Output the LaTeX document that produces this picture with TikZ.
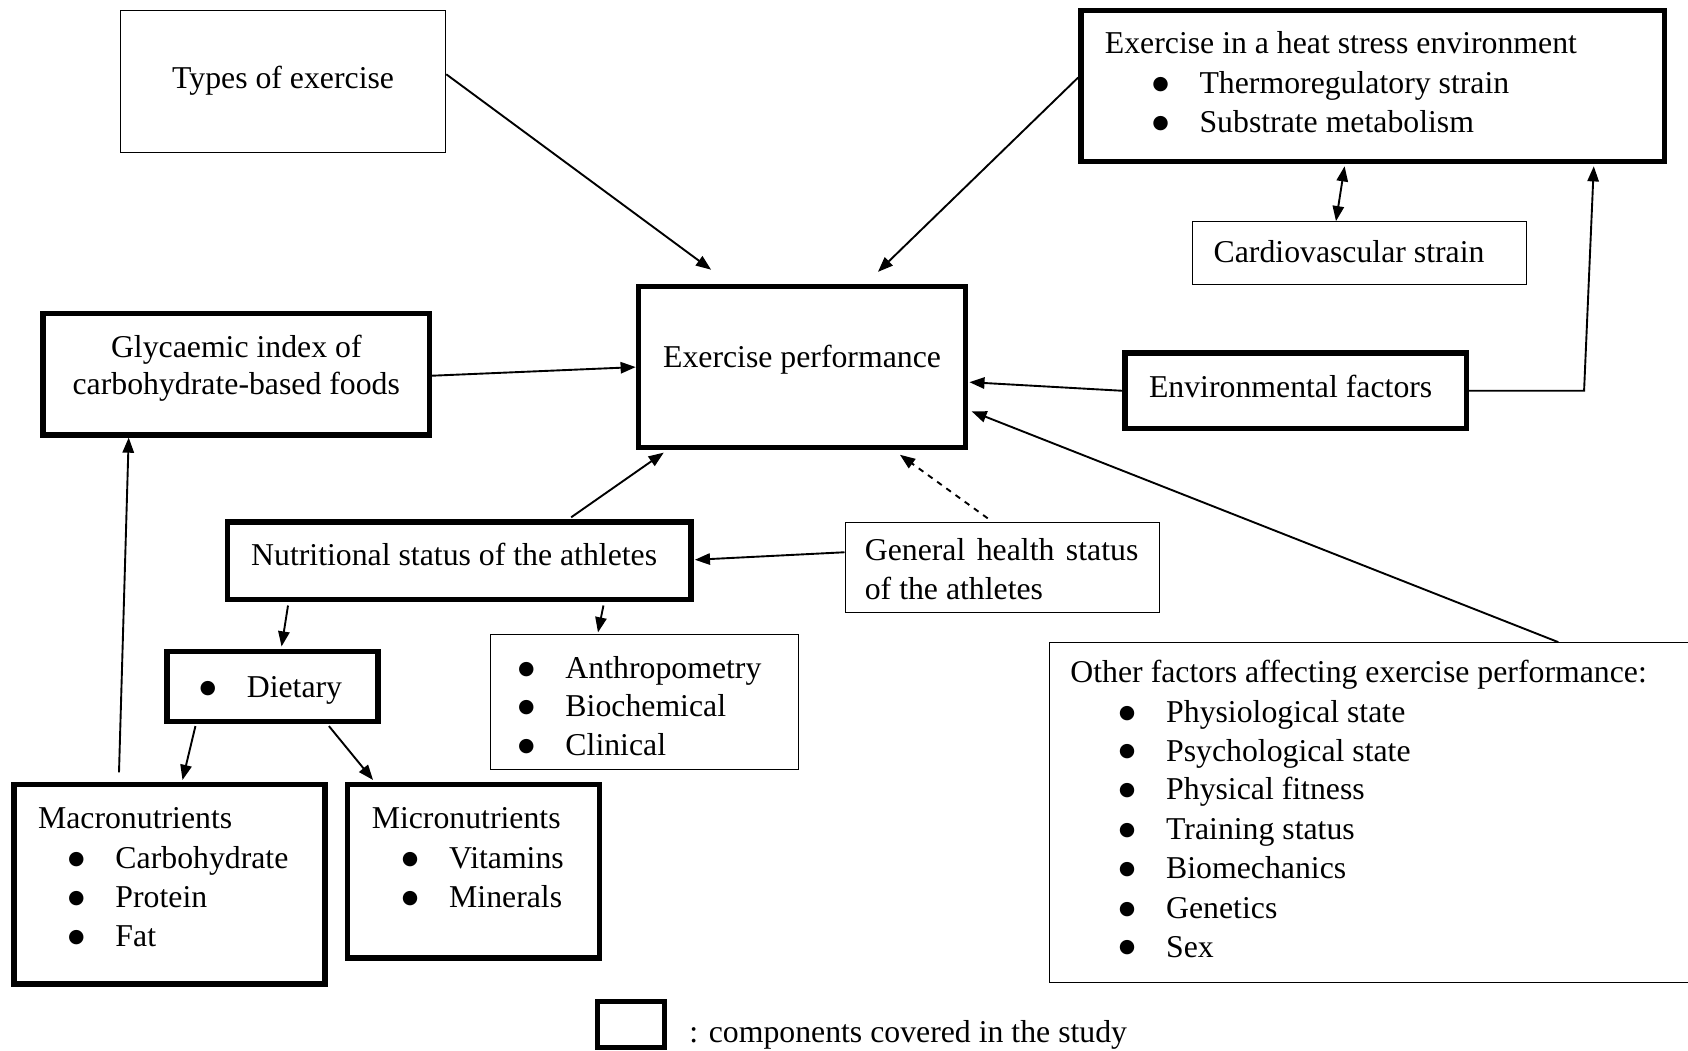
\documentclass[tikz,border=0pt]{standalone}
\usepackage{fontspec}
\setmainfont{Liberation Serif}
\newfontfamily\dejavu{DejaVu Sans}
\usetikzlibrary{arrows.meta,calc,fit}
\newcommand\mybox[6]{\path (#3,#4) coordinate (#1-a) (#5,#6) coordinate (#1-b);
  \node[#2, fit=(#1-a)(#1-b)] (#1) {};}
\newcommand\mybul{\raisebox{2.2pt}{\dejavu\fontsize{10pt}{10pt}\selectfont ●}}
\newcommand\tline[4]{\node[txtline] (#1) at (#2,#3+10) {#4};}
\newcommand\bline[4]{\node[txtline] (#1) at (#2-1,#3+10) {\makebox[25pt][l]{\mybul}#4};}
\begin{document}
\begin{tikzpicture}[x=0.02cm,y=-0.02cm,
  every node/.style={font=\fontsize{16.8pt}{20.6pt}\selectfont},
  txtline/.style={anchor=base west, inner sep=0pt, text height=0.68em, text depth=0.2em},
  ctxtline/.style={anchor=base, inner sep=0pt, text height=0.68em, text depth=0.2em},
  thinbox/.style={draw, line width=0.6pt, inner sep=0pt},
  thickbox/.style={draw, line width=2.8pt, inner sep=0pt},
  arr/.style={line width=1pt, -{Triangle[length=8pt,width=6pt]}},
  darr/.style={line width=1pt, {Triangle[length=8pt,width=6pt]}-{Triangle[length=8pt,width=6pt]}},
]
\clip (0,0) rectangle (1568,976);
\fill[white] (0,0) rectangle (1568,976);

% boxes
\mybox{types}{thinbox}{112}{10}{414}{142}
\mybox{heat}{thickbox}{1004}{10}{1546}{150}
\mybox{cardio}{thinbox}{1108}{206}{1418}{264}
\mybox{ep}{thickbox}{593}{266}{897}{416}
\mybox{glyc}{thickbox}{40}{291}{399}{404}
\mybox{env}{thickbox}{1045}{328}{1362}{398}
\mybox{nutr}{thickbox}{211}{485}{642}{557}
\mybox{gen}{thinbox}{785}{485}{1077}{569}
\mybox{diet}{thickbox}{155}{605}{351}{670}
\mybox{anth}{thinbox}{456}{589}{742}{715}
\mybox{other}{thinbox}{975}{597}{1600}{913}
\mybox{macro}{thickbox}{13}{729}{302}{914}
\mybox{micro}{thickbox}{323}{729}{557}{890}
\mybox{legend}{thickbox}{555}{930}{617}{973}

% texts
\node[ctxtline] (types-t) at (263,82) {Types of exercise};
\node[ctxtline] (ep-t) at (745,341) {Exercise performance};
\node[ctxtline] (glyc-t1) at (219.5,332) {Glycaemic index of};
\node[ctxtline] (glyc-t2) at (219.5,366) {carbohydrate-based foods};
\tline{heat-t}{1026}{40}{Exercise in a heat stress environment}
\bline{heat-b1}{1071}{77}{Thermoregulatory strain}
\bline{heat-b2}{1071}{113}{Substrate metabolism}
\tline{cardio-t}{1127}{234}{Cardiovascular strain}
\tline{env-t}{1067}{359}{Environmental factors}
\tline{nutr-t}{233}{515}{Nutritional status of the athletes}
\tline{gen-t1}{803}{511}{\makebox[144.6pt][s]{General\hfill health\hfill status}}
\tline{gen-t2}{803}{547}{of the athletes}
\bline{diet-b}{186}{638}{Dietary}
\bline{anth-b1}{482}{620}{Anthropometry}
\bline{anth-b2}{482}{656}{Biochemical}
\bline{anth-b3}{482}{692}{Clinical}
\tline{other-t}{994}{624}{Other factors affecting exercise performance:}
\bline{other-b1}{1040}{661}{Physiological state}
\bline{other-b2}{1040}{697}{Psychological state}
\bline{other-b3}{1040}{733}{Physical fitness}
\bline{other-b4}{1040}{770}{Training status}
\bline{other-b5}{1040}{806}{Biomechanics}
\bline{other-b6}{1040}{843}{Genetics}
\bline{other-b7}{1040}{879}{Sex}
\tline{macro-t}{35}{760}{Macronutrients}
\bline{macro-b1}{64}{797}{Carbohydrate}
\bline{macro-b2}{64}{833}{Protein}
\bline{macro-b3}{64}{869}{Fat}
\tline{micro-t}{345}{760}{Micronutrients}
\bline{micro-b1}{374}{797}{Vitamins}
\bline{micro-b2}{374}{833}{Minerals}
\tline{legend-t}{640}{958}{: components covered in the study}

% connectors
\draw[arr] ($(types.east)+(0,-7)$) -- ($(ep.north west)+(70,-13)$);
\draw[arr] ($(heat.west)+(0,-8)$) -- ($(ep.north west)+(225,-11)$);
\draw[darr] ($(heat.south)+(-26,2)$) -- ($(cardio.north)+(-22,0)$);
\draw[arr] (env.east) -- ++(107,0) -- ($(heat.south east)+(-68,2)$);
\draw[arr] (env.west) -- ($(ep.east)+(1,14)$);
\draw[arr] ($(glyc.east)+(0,1.5)$) -- (ep.west);
\draw[arr] ($(other.north west)+(473,0)$) -- ($(ep.east)+(3,41)$);
\draw[arr, dashed] ($(gen.north west)+(133,-3)$) -- ($(ep.south)+(91,4)$);
\draw[arr] ($(gen.west)+(0,-14)$) -- ($(nutr.east)+(1,-1)$);
\draw[arr] ($(nutr.north west)+(322,-2)$) -- ($(ep.south west)+(26,2)$);
\draw[arr] ($(nutr.south west)+(59,3)$) -- ($(diet.north west)+(109,-2)$);
\draw[arr] ($(nutr.south west)+(352,3)$) -- ($(anth.north west)+(100,-1)$);
\draw[arr] ($(diet.south west)+(29,2)$) -- ($(macro.north west)+(159,-2)$);
\draw[arr] ($(diet.south west)+(153,2)$) -- ($(micro.north west)+(26,-2)$);
\draw[arr] ($(macro.north west)+(100,-9)$) -- ($(glyc.south west)+(82,0)$);
\end{tikzpicture}
\end{document}
